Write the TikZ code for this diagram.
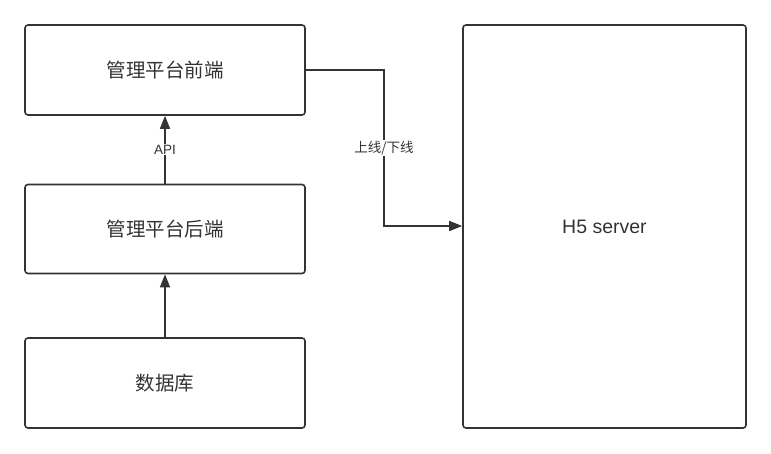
\documentclass[tikz,border=0pt]{standalone}
\usepackage{fontspec}
\setmainfont{Noto Sans CJK SC}
\newfontfamily\latinfont{Liberation Sans}
\usetikzlibrary{arrows.meta}
\definecolor{ink}{HTML}{333333}
\begin{document}
\begin{tikzpicture}[x=1pt,y=-1pt,
  box/.style={draw=ink, line width=1.6pt, rounded corners=3pt, inner sep=0pt, text=ink, font=\fontsize{19.5}{22}\selectfont},
  conn/.style={draw=ink, line width=1.5pt, -{Triangle[length=13pt,width=10pt]}},
  lbl/.style={fill=white, inner sep=1pt, font=\fontsize{13.5}{15}\selectfont, text=ink}]
\useasboundingbox (0,0) rectangle (771,453);
\node[box, minimum width=280pt, minimum height=90pt] (fe) at (165,70) {管理平台前端};
\node[box, minimum width=280pt, minimum height=89pt] (be) at (165,229) {管理平台后端};
\node[box, minimum width=280pt, minimum height=90pt] (db) at (165,383) {数据库};
\node[box, minimum width=283pt, minimum height=403pt] (h5) at (604.5,226.5) {\latinfont H5 server};
\draw[conn] (be.north) -- node[lbl] {\latinfont API} (fe.south);
\draw[conn] (db.north) -- (be.south);
\coordinate (c1) at (384,70);
\coordinate (c2) at (384,226);
\draw[conn] (fe.east |- c1) -- (c1) -- node[lbl, pos=0.5] {上线/下线} (c2) -- (h5.west |- c2);
\end{tikzpicture}
\end{document}
